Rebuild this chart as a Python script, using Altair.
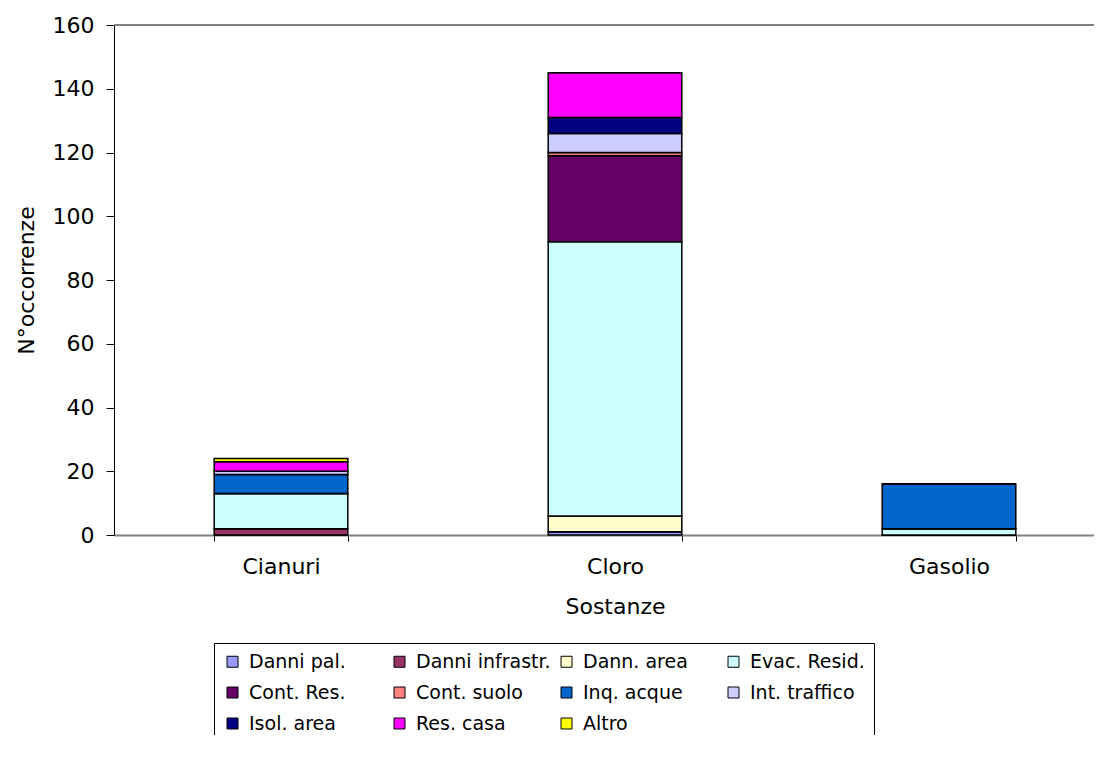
import altair as alt
import pandas as pd

categories = ["Cianuri", "Cloro", "Gasolio"]
series = ["Danni pal.", "Danni infrastr.", "Dann. area", "Evac. Resid.",
          "Cont. Res.", "Cont. suolo", "Inq. acque", "Int. traffico",
          "Isol. area", "Res. casa", "Altro"]
colors = ["#9999FF", "#993366", "#FFFFCC", "#CCFFFF", "#660066", "#FF8080",
          "#0066CC", "#CCCCFF", "#000080", "#FF00FF", "#FFFF00"]

danni_pal = [0, 1, 0]
danni_infrastr = [2, 0, 0]
dann_area = [0, 5, 0]
evac_resid = [11, 86, 2]
cont_res = [0, 27, 0]
cont_suolo = [0, 1, 0]
inq_acque = [6, 0, 14]
int_traffico = [1, 6, 0]
isol_area = [0, 5, 0]
res_casa = [3, 14, 0]
altro = [1, 0, 0]

values = [danni_pal, danni_infrastr, dann_area, evac_resid, cont_res,
          cont_suolo, inq_acque, int_traffico, isol_area, res_casa, altro]

rows = []
for si, (s, vals) in enumerate(zip(series, values)):
    for c, v in zip(categories, vals):
        rows.append({"Sostanze": c, "Serie": s, "ord": si, "Valore": v})
df = pd.DataFrame(rows)

FONT = "DejaVu Sans"

bars = alt.Chart(df).mark_bar(stroke="black", strokeWidth=1.5).encode(
    x=alt.X("Sostanze:N", sort=categories,
            scale=alt.Scale(range=[0, 1002], paddingInner=0.6, paddingOuter=0.3),
            axis=alt.Axis(title="Sostanze", labelAngle=0, tickBand="extent",
                          domainColor="#808080", domainWidth=2,
                          tickColor="black", tickSize=6, labelPadding=15,
                          titlePadding=19)),
    y=alt.Y("sum(Valore):Q", stack="zero",
            scale=alt.Scale(domain=[0, 160], nice=False),
            axis=alt.Axis(title="N°occorrenze", values=list(range(0, 161, 20)),
                          grid=False, domainColor="black", tickColor="black",
                          tickSize=8, labelPadding=12, titlePadding=14)),
    color=alt.Color("Serie:N", sort=series,
                    scale=alt.Scale(domain=series, range=colors),
                    legend=alt.Legend(title=None, orient="none", legendX=100, legendY=618,
                                      columns=4, direction="horizontal",
                                      strokeColor="black", fillColor="white",
                                      padding=9, symbolType="square", symbolSize=121,
                                      symbolStrokeColor="black", symbolStrokeWidth=1,
                                      labelFontSize=19, labelFont=FONT,
                                      labelColor="black", labelOffset=7,
                                      rowPadding=11, columnPadding=6,
                                      gridAlign="all")),
    order=alt.Order("ord:Q", sort="ascending"),
)

top = alt.Chart(pd.DataFrame({"y": [160]})).mark_rule(color="#808080", strokeWidth=2).encode(
    y=alt.Y("y:Q")
)

chart = alt.layer(top, bars).properties(
    width=980, height=510,
    autosize=alt.AutoSizeParams(type="none"),
    padding={"left": 106, "top": 17, "right": 0, "bottom": 200},
).configure_view(stroke=None).configure_axis(
    labelFont=FONT, titleFont=FONT, labelFontSize=22, titleFontSize=22,
    labelColor="black", titleColor="black", titleFontWeight="normal",
)

chart.save("out.html", embed_options={"renderer": "svg", "actions": False})
